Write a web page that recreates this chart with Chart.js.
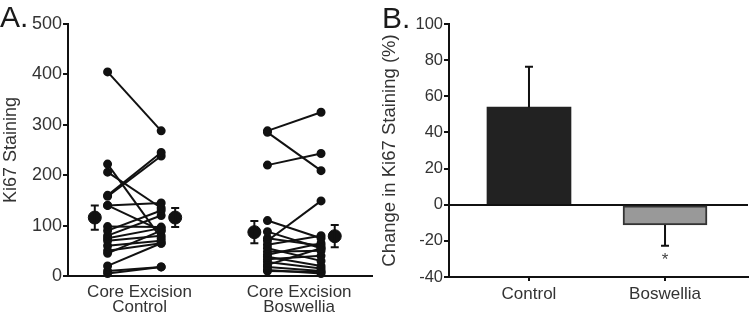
<!DOCTYPE html>
<html>
<head>
<meta charset="utf-8">
<script src="https://cdn.jsdelivr.net/npm/chart.js@4.4.1/dist/chart.umd.min.js"></script>
<style>
html, body { margin: 0; padding: 0; background: #fff; }
#wrap { position: relative; width: 751px; height: 317px; overflow: hidden; font-family: "Liberation Sans", Arial, sans-serif; }
#boxA { position: absolute; left: 0; top: 0; }
#boxB { position: absolute; left: 375px; top: 0; }
.lbl { position: absolute; font-size: 30px; color: #1a1a1a; line-height: 1; }
</style>
</head>
<body>
<div id="wrap">
  <canvas id="boxA" width="380" height="317"></canvas>
  <canvas id="boxB" width="376" height="317"></canvas>
  <div class="lbl" style="left:0;top:2px;">A.</div>
  <div class="lbl" style="left:382px;top:3px;">B.</div>
</div>
<script>
// Panel A: paired Ki67 staining, core vs excision
const groupLabels = [['Core Excision', 'Control'], ['Core Excision', 'Boswellia']];
const ctrlCore     = [405, 222, 206, 160, 158, 140, 140, 98, 90, 80, 75, 70, 60, 50, 45, 20, 10, 5];
const ctrlExcision = [288, 75, 135, 245, 238, 145, 90, 97, 130, 120, 95, 80, 70, 65, 90, 65, 18, 18];
const boswCore     = [288, 285, 220, 110, 88, 75, 70, 62, 55, 48, 42, 38, 33, 28, 22, 18, 12, 10];
const boswExcision = [325, 209, 243, 75, 55, 60, 149, 80, 30, 50, 65, 20, 40, 15, 55, 10, 5, 8];
const meanVals = [116, 116, 87, 79];
const meanSem  = [24, 19, 22, 22];
const yTicksA  = [0, 100, 200, 300, 400, 500];

// Panel B: change in Ki67 staining (%)
const categories = ['Control', 'Boswellia'];
const changeMean = [54, -11.2];
const changeSem  = [22.4, 11.5];
const yTicksB    = [-40, -20, 0, 20, 40, 60, 80, 100];

// x positions on panel A (scale 0..10)
const posA = { ctrlCore: 1.3, ctrlExc: 3.06, boswCore: 6.55, boswExc: 8.31 };
const meanX = [0.88, 3.52, 6.12, 8.76];
const labelX = [2.35, 7.59];

const ink = '#111';
const txt = '#333';
const fam = '"Liberation Sans", Arial, sans-serif';

function pairSets(pre, post, x0, x1) {
  return pre.map((v, i) => ({
    type: 'line',
    data: [{ x: x0, y: v }, { x: x1, y: post[i] }],
    borderColor: ink,
    backgroundColor: ink,
    borderWidth: 2,
    pointRadius: 3.5,
    pointHoverRadius: 3.5,
    clip: false
  }));
}

const meanBars = {
  id: 'meanBars',
  afterDatasetsDraw(chart) {
    const { ctx, scales: { x, y } } = chart;
    ctx.save();
    ctx.strokeStyle = ink;
    ctx.lineWidth = 2;
    meanX.forEach((mx, i) => {
      const px = x.getPixelForValue(mx);
      const top = y.getPixelForValue(meanVals[i] + meanSem[i]);
      const bot = y.getPixelForValue(meanVals[i] - meanSem[i]);
      ctx.beginPath();
      ctx.moveTo(px, top); ctx.lineTo(px, bot);
      ctx.moveTo(px - 4, top); ctx.lineTo(px + 4, top);
      ctx.moveTo(px - 4, bot); ctx.lineTo(px + 4, bot);
      ctx.stroke();
    });
    ctx.restore();
  }
};

const datasetsA = [
  ...pairSets(ctrlCore, ctrlExcision, posA.ctrlCore, posA.ctrlExc),
  ...pairSets(boswCore, boswExcision, posA.boswCore, posA.boswExc),
  {
    type: 'scatter',
    data: meanX.map((x, i) => ({ x: x, y: meanVals[i] })),
    backgroundColor: ink,
    borderColor: ink,
    pointRadius: 6.5,
    clip: false
  }
];

new Chart(document.getElementById('boxA'), {
  type: 'scatter',
  data: { datasets: datasetsA },
  options: {
    responsive: false,
    animation: false,
    layout: { padding: { top: 24, right: 5, bottom: 0, left: 0 } },
    plugins: { legend: { display: false }, tooltip: { enabled: false } },
    scales: {
      x: {
        type: 'linear', min: 0, max: 10,
        afterBuildTicks: s => { s.ticks = labelX.map(v => ({ value: v })); },
        afterFit: s => { s.height = 41; },
        grid: { display: false, drawTicks: false },
        border: { display: true, color: ink, width: 2 },
        ticks: {
          autoSkip: false, maxRotation: 0, padding: 9,
          color: txt, font: { size: 17, family: fam, lineHeight: 0.86 },
          callback: (v, i) => groupLabels[i]
        }
      },
      y: {
        min: 0, max: 500,
        afterBuildTicks: s => { s.ticks = yTicksA.map(v => ({ value: v })); },
        afterFit: s => { s.width = 68; },
        grid: { drawOnChartArea: false, color: ink, lineWidth: 2, tickLength: 5 },
        border: { display: true, color: ink, width: 2 },
        ticks: { padding: 1, color: txt, font: { size: 18, family: fam } },
        title: { display: true, text: 'Ki67 Staining', color: txt, padding: 0, font: { size: 18, family: fam } }
      }
    }
  },
  plugins: [meanBars]
});

const barErrors = {
  id: 'barErrors',
  afterDatasetsDraw(chart) {
    const { ctx, scales: { x, y } } = chart;
    ctx.save();
    ctx.strokeStyle = ink;
    ctx.lineWidth = 2;
    changeMean.forEach((m, i) => {
      const px = x.getPixelForValue(i + 1);
      const from = y.getPixelForValue(m);
      const endVal = m >= 0 ? m + changeSem[i] : m - changeSem[i];
      const to = y.getPixelForValue(endVal);
      ctx.beginPath();
      ctx.moveTo(px, from); ctx.lineTo(px, to);
      ctx.moveTo(px - 4, to); ctx.lineTo(px + 4, to);
      ctx.stroke();
      if (m < 0) {
        ctx.fillStyle = '#444';
        ctx.font = '17px ' + fam;
        ctx.textAlign = 'center';
        ctx.textBaseline = 'top';
        ctx.fillText('*', px, to + 6);
      }
    });
    ctx.restore();
  }
};

new Chart(document.getElementById('boxB'), {
  type: 'bar',
  data: {
    datasets: [{
      data: changeMean.map((v, i) => ({ x: i + 1, y: v })),
      backgroundColor: ['#222222', '#999999'],
      borderColor: ['#222222', '#333333'],
      borderWidth: [0, 2],
      borderSkipped: false,
      barThickness: 84
    }]
  },
  options: {
    responsive: false,
    animation: false,
    layout: { padding: { top: 24, right: 3, bottom: 0, left: 0 } },
    plugins: { legend: { display: false }, tooltip: { enabled: false } },
    scales: {
      x: {
        type: 'linear', min: 0.412, max: 2.61, offset: false,
        afterBuildTicks: s => { s.ticks = categories.map((c, i) => ({ value: i + 1 })); },
        afterFit: s => { s.height = 40; },
        grid: { drawOnChartArea: false, offset: false, color: ink, lineWidth: 2, tickLength: 4 },
        border: { display: true, color: ink, width: 2 },
        ticks: {
          autoSkip: false, maxRotation: 0, padding: 3,
          color: txt, font: { size: 17, family: fam },
          callback: (v, i) => categories[i]
        }
      },
      y: {
        min: -40, max: 100,
        afterBuildTicks: s => { s.ticks = yTicksB.map(v => ({ value: v })); },
        afterFit: s => { s.width = 74; },
        grid: {
          drawOnChartArea: true,
          color: c => (c.tick && c.tick.value === 0 ? ink : 'rgba(0,0,0,0)'),
          tickColor: ink, lineWidth: 2, tickLength: 5
        },
        border: { display: true, color: ink, width: 2 },
        ticks: { padding: 1, color: txt, font: { size: 16.5, family: fam } },
        title: { display: true, text: 'Change in Ki67 Staining (%)', color: txt, padding: { top: 4, bottom: 0 }, font: { size: 18.5, family: fam } }
      }
    }
  },
  plugins: [barErrors]
});
</script>
</body>
</html>
